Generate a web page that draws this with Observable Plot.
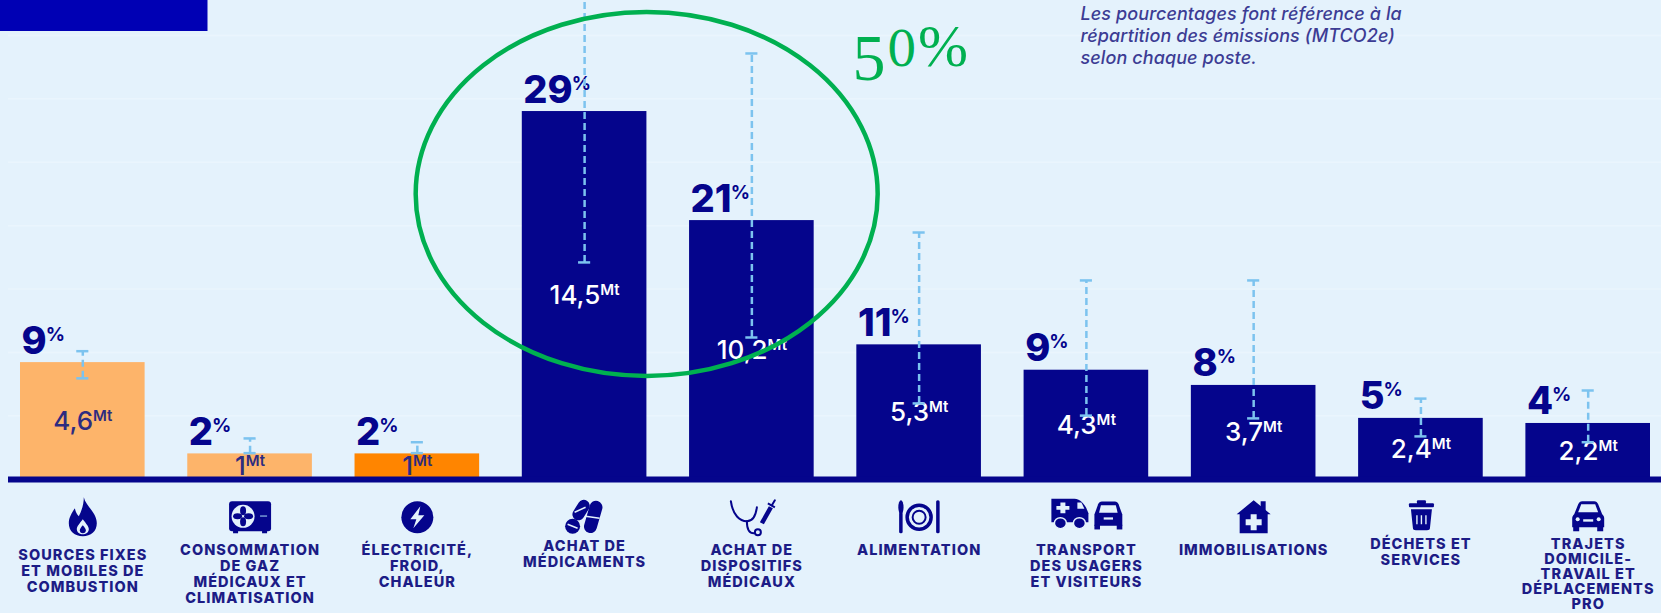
<!DOCTYPE html>
<html lang="fr">
<head>
<meta charset="utf-8">
<title>Émissions par poste</title>
<script src="https://cdn.jsdelivr.net/npm/d3@7"></script>
<script src="https://cdn.jsdelivr.net/npm/@observablehq/plot@0.6"></script>
<style>
  html, body { margin: 0; background: #e4f2fc; }
  svg { display: block; }
  .cat text { letter-spacing: 1.05px; }
  .note text { letter-spacing: 0.1px; }
</style>
</head>
<body>
<script>
// Postes d'émission
const categories = [
  "SOURCES FIXES\nET MOBILES DE\nCOMBUSTION",
  "CONSOMMATION\nDE GAZ\nMÉDICAUX ET\nCLIMATISATION",
  "ÉLECTRICITÉ,\nFROID,\nCHALEUR",
  "ACHAT DE\nMÉDICAMENTS",
  "ACHAT DE\nDISPOSITIFS\nMÉDICAUX",
  "ALIMENTATION",
  "TRANSPORT\nDES USAGERS\nET VISITEURS",
  "IMMOBILISATIONS",
  "DÉCHETS ET\nSERVICES",
  "TRAJETS\nDOMICILE-\nTRAVAIL ET\nDÉPLACEMENTS\nPRO"
];
const shares = [9, 2, 2, 29, 21, 11, 9, 8, 5, 4];
const emissions = [4.6, 1, 1, 14.5, 10.2, 5.3, 4.3, 3.7, 2.4, 2.2];
const emissionLabels = ["4,6", "1", "1", "14,5", "10,2", "5,3", "4,3", "3,7", "2,4", "2,2"];
const uncertaintyLow = [3.98, 1.03, 1.03, 8.55, 5.59, 2.99, 2.51, 2.4, 1.69, 1.46];
const uncertaintyHigh = [5.05, 1.61, 1.46, 20, 16.79, 9.73, 7.84, 7.84, 3.18, 3.5];
const scopes = ["1", "1", "2", "3", "3", "3", "3", "3", "3", "3"];
const gridTicks = [2.5, 5, 7.5, 10, 12.5, 15, 17.5];
const noteText = "Les pourcentages font référence à la\nrépartition des émissions (MTCO2e)\nselon chaque poste.";
const highlightText = "50%";

// Pictogrammes, dessinés dans une boîte 80×44
const NAVY = "#05058c";
const BG = "#e4f2fc";
const iconBodies = [
  `<path fill="${NAVY}" fill-rule="evenodd" d="M41 2C43 11 54 17 54 28C54 36 48 41 40 41C32 41 26 36 26 28C26 22 29 18 32 13C33 17 34 19 36 21C39 15 41 9 41 2ZM40 24C37 28 34 31 34 34C34 37 37 39 40 39C43 39 46 37 46 34C46 31 43 28 40 24Z"/><path fill="${NAVY}" d="M40 30C38 32 37 34 37 35C37 37 38 38 40 38C42 38 43 37 43 35C43 34 42 32 40 30Z"/>`,
  `<rect x="19" y="6" width="42" height="30" rx="3" fill="${NAVY}"/><rect x="23" y="35" width="5" height="3" fill="${NAVY}"/><rect x="52" y="35" width="5" height="3" fill="${NAVY}"/><circle cx="33" cy="21" r="11.5" fill="${BG}"/><g fill="${NAVY}"><ellipse cx="33" cy="15.5" rx="3" ry="4.5"/><ellipse cx="33" cy="26.5" rx="3" ry="4.5"/><ellipse cx="27.5" cy="21" rx="4.5" ry="3"/><ellipse cx="38.5" cy="21" rx="4.5" ry="3"/></g><rect x="50" y="20" width="7" height="1.6" fill="#6f8fd0"/>`,
  `<circle cx="40" cy="22" r="16" fill="${NAVY}"/><path fill="${BG}" d="M43 11L33 24H39L36 33L47 20H41Z"/>`,
  `<g fill="${NAVY}"><rect x="42" y="5" width="13" height="33" rx="6.5" transform="rotate(16 48 22)"/><rect x="31" y="4" width="12" height="22" rx="6" transform="rotate(32 37 14)"/><circle cx="28" cy="31" r="7.5"/></g><g stroke="${BG}" stroke-width="1.5"><path d="M41 21L55 23"/><path d="M30 17L41 12"/><path d="M23 29L33 33"/></g>`,
  `<g fill="none" stroke="${NAVY}" stroke-width="2" stroke-linecap="round"><path d="M19 6C21 20 28 26 35 26C41 26 44 20 45 12"/><path d="M35 26C35 34 37 38 42 38"/><circle cx="46" cy="37" r="3"/><path d="M60 10L63 5"/></g><path fill="${NAVY}" d="M48 27L57 11L61 13L52 29Z"/><path stroke="${NAVY}" stroke-width="2" d="M56 8L63 12"/>`,
  `<g fill="none" stroke="${NAVY}"><circle cx="40" cy="22" r="12" stroke-width="3.5"/><circle cx="40" cy="22" r="6.5" stroke-width="2"/></g><g fill="${NAVY}"><rect x="20" y="17" width="3.5" height="21" rx="1.6"/><ellipse cx="21.8" cy="12" rx="2.6" ry="7"/><rect x="57" y="5" width="3.5" height="33" rx="1.6"/></g>`,
  `<g transform="translate(4 0) scale(1 0.9)"><g fill="${NAVY}"><path d="M1 4H24C31 4 36 13 38 20V30H1Z"/><circle cx="10" cy="31" r="6" stroke="${BG}" stroke-width="1.5"/><circle cx="29" cy="31" r="6" stroke="${BG}" stroke-width="1.5"/></g><path fill="${BG}" d="M10 8H15V12H19V16H15V20H10V16H6V12H10Z"/><path fill="${BG}" d="M27 8H31L34 15H27Z"/></g><g transform="translate(4.3 -3) scale(0.93)"><g fill="${NAVY}"><path d="M47 24L51 13C52 11 53 10 55 10H69C71 10 72 11 73 13L77 24V36H47Z"/><rect x="47" y="35" width="6" height="5"/><rect x="71" y="35" width="6" height="5"/></g><path fill="${BG}" d="M52 22L54 14H70L72 22Z"/><rect x="57" y="27" width="10" height="2.4" fill="${BG}"/></g>`,
  `<path fill="${NAVY}" d="M40 5L57 19H54V38H26V19H23Z"/><path fill="${NAVY}" d="M47 6H52V16H47Z"/><path fill="${BG}" d="M37 19H43V24H48V30H43V35H37V30H32V24H37Z"/>`,
  `<g fill="${NAVY}"><rect x="28" y="8" width="25" height="4" rx="1"/><rect x="36" y="5" width="9" height="4" rx="1"/><path d="M30 14H51L49 33C49 34 48 35 46 35H35C33 35 32 34 32 33Z"/></g><g stroke="${BG}" stroke-width="1.4"><path d="M36 20V29"/><path d="M40.5 20V29"/><path d="M45 20V29"/></g>`,
  `<g fill="${NAVY}"><path d="M26 19L30 9C31 7 32 6 34 6H46C48 6 49 7 50 9L54 19C55 20 56 21 56 23V32H24V23C24 21 25 20 26 19Z"/><rect x="25" y="31" width="6" height="5"/><rect x="49" y="31" width="6" height="5"/></g><path fill="${BG}" d="M30 17L33 9H47L50 17Z"/><rect x="35" y="24" width="10" height="2.4" fill="${BG}"/><circle cx="29.5" cy="24" r="2" fill="${BG}"/><circle cx="50.5" cy="24" r="2" fill="${BG}"/>`
];
const icons = iconBodies.map((body) =>
  "data:image/svg+xml," + encodeURIComponent(`<svg xmlns="http://www.w3.org/2000/svg" width="80" height="44" viewBox="0 0 80 44">${body}</svg>`)
);

const rows = categories.map((category, i) => ({
  category,
  share: shares[i],
  emission: emissions[i],
  label: emissionLabels[i],
  low: uncertaintyLow[i],
  high: uncertaintyHigh[i],
  scope: scopes[i],
  icon: icons[i]
}));

const BASELINE = 478.76;
const BAND = 124.5;
const FONT = "Inter, 'Noto Sans', sans-serif";
const labelDrops = [69.9, 64.9, 64.9, 60.9, 64.9, 64.9, 64.9, 64.9, 58.9, 58.9];
const labelLeading = [1.1, 1.1, 1.1, 1.1, 1.1, 1.1, 1.1, 1.1, 1.1, 1.04];

// Fond : cartouche bleu en haut à gauche
const cornerBlock = () => d3.create("svg:rect")
  .attr("x", 0).attr("y", 0).attr("width", 207.5).attr("height", 31)
  .attr("fill", "#0000b4").node();

// Ellipse verte autour des deux premiers postes d'achat
const highlightRing = (index, scales) => {
  const cx = (scales.x(categories[3]) + scales.x(categories[4]) + BAND) / 2 - 21;
  return d3.create("svg:ellipse")
    .attr("cx", cx).attr("cy", scales.y(11.23))
    .attr("rx", 231).attr("ry", 182)
    .attr("fill", "none").attr("stroke", "#00b050").attr("stroke-width", 4.5).node();
};

const chart = Plot.plot({
  width: 1661,
  height: 613,
  marginTop: 0,
  marginBottom: 613 - BASELINE,
  marginLeft: 8,
  marginRight: 0,
  style: { background: BG, overflow: "hidden" },
  x: { type: "band", domain: categories, range: [20, 1650], paddingInner: 0.255, paddingOuter: 0, round: false, axis: null },
  y: { domain: [0, BASELINE / 25.36], range: [BASELINE, 0], axis: null },
  color: { domain: ["1", "2", "3"], range: ["#fdb46a", "#ff8500", NAVY] },
  marks: [
    Plot.ruleY(gridTicks, { stroke: "#eaf5fd", strokeWidth: 1.5 }),
    cornerBlock,
    Plot.barY(rows, { x: "category", y: "emission", fill: "scope" }),
    Plot.ruleY([0], { stroke: NAVY, strokeWidth: 6, dy: 0.2 }),

    // Valeurs en Mt, centrées dans chaque barre
    Plot.text(rows, {
      x: "category", y: (d) => d.emission / 2, text: (d) => d.label + "Mt",
      fill: (d) => (d.scope === "3" ? "#ffffff" : "#2d2b80"),
      fontFamily: FONT, fontSize: 26, fontWeight: 500, lineAnchor: "middle", dy: 0.5,
      className: "mt"
    }),

    // Parts en pourcentage au-dessus des barres
    Plot.text(rows, {
      x: "category", y: "emission", text: (d) => d.share + "%",
      textAnchor: "start", lineAnchor: "bottom",
      dx: -BAND / 2 + 1, dy: -9,
      fill: NAVY, fontFamily: FONT, fontSize: 38, fontWeight: 800,
      className: "pct"
    }),

    // Incertitudes
    Plot.ruleX(rows, { x: "category", y1: "low", y2: "high", stroke: "#7cc3ef", strokeWidth: 2.5, strokeDasharray: "7,4" }),
    Plot.tickY(rows, { x: "category", y: "low", stroke: "#7cc3ef", strokeWidth: 2.5, insetLeft: BAND / 2 - 6, insetRight: BAND / 2 - 6 }),
    Plot.tickY(rows, { x: "category", y: "high", stroke: "#7cc3ef", strokeWidth: 2.5, insetLeft: BAND / 2 - 6, insetRight: BAND / 2 - 6 }),

    // Pictogrammes et libellés sous l'axe
    Plot.image(rows, { x: "category", y: () => 0, src: "icon", width: 80, height: 44, dy: 38 }),
    ...rows.map((row, i) => Plot.text([row], {
      x: "category", y: () => 0, text: "category", lineAnchor: "top",
      dy: labelDrops[i], lineHeight: labelLeading[i],
      fill: "#1c1c86", fontFamily: FONT, fontSize: 14.5, fontWeight: 800,
      className: "cat"
    })),

    // Note de lecture
    Plot.text([noteText], {
      frameAnchor: "top-left", dx: 1072, dy: 4, lineHeight: 1.22, textAnchor: "start",
      fill: "#3c3c94", fontFamily: FONT, fontSize: 18, fontStyle: "italic", fontWeight: 500,
      className: "note"
    }),

    highlightRing,
    Plot.text([highlightText], {
      frameAnchor: "top-left", dx: 844, dy: 20, textAnchor: "start", lineAnchor: "top",
      fill: "#00b050", fontFamily: "'Liberation Serif', serif", fontSize: 60,
      className: "big"
    })
  ]
});

// Exposants : le suffixe passe en petit et remonte
function superscript(selector, suffix, size, rise, weight, shift) {
  d3.select(chart).selectAll(selector + " text").each(function () {
    const full = this.textContent;
    const head = full.slice(0, -suffix.length);
    this.textContent = head;
    d3.select(this).append("tspan")
      .attr("font-size", size).attr("dy", -rise).attr("dx", shift).attr("font-weight", weight)
      .text(suffix);
  });
}
superscript(".mt", "Mt", 15, 9, 600, 0);
superscript(".pct", "%", 19, 13, 700, -1);

// Chiffres elzéviriens pour le total surligné
d3.select(chart).selectAll(".big text").each(function () {
  this.textContent = "";
  const t = d3.select(this);
  t.append("tspan").attr("font-size", 66).attr("dy", 17).text("5");
  t.append("tspan").attr("font-size", 48).attr("dy", -14).attr("dx", 1)
    .attr("font-family", "'DejaVu Serif', serif").text("0");
  t.append("tspan").attr("font-size", 60).attr("dy", 0).attr("dx", 1).text("%");
});

document.body.append(chart);
</script>
</body>
</html>
